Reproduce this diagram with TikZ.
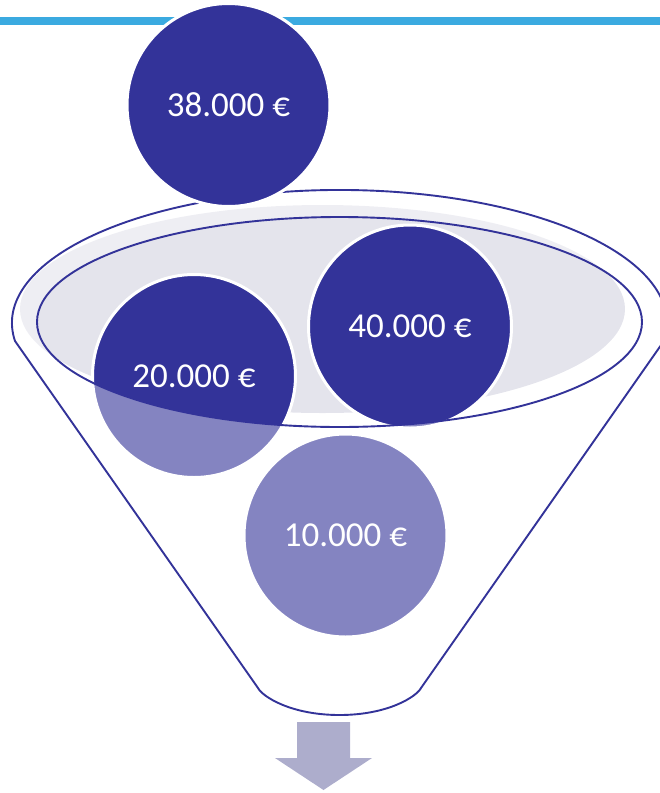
\documentclass[tikz,border=0pt]{standalone}
\usepackage{fontspec}
\setmainfont{Carlito}
\definecolor{dkblue}{HTML}{333399}
\definecolor{barblue}{RGB}{59,170,224}
\definecolor{grayfill}{RGB}{228,228,236}
\definecolor{arrowgray}{RGB}{173,173,204}
\tikzset{
  money/.style={circle, fill=dkblue, draw=white, line width=3pt, minimum size=203pt,
    inner sep=0pt, text=white, font=\fontsize{35}{40}\selectfont},
  funnelline/.style={draw=dkblue, line width=1.9pt, line join=round},
  overlay/.style={fill=white, fill opacity=0.4, even odd rule}
}
\begin{document}
\begin{tikzpicture}[x=1pt,y=-1pt]
\useasboundingbox (0,0) rectangle (660,793);
% top bar
\fill[barblue] (0,17) rectangle (660,25);
% opening fill
\fill[grayfill] (322.5,309) ellipse [x radius=302.5, y radius=104];
% circles inside the funnel
\node[money] (c20) at (194,376) {20.000 €};
\node[money] (c40) at (410,326.5) {40.000 €};
\node[money] (c10) at (345.5,535.5) {10.000 €};
% translucent funnel body
\path[overlay] (15,341) arc[start angle=172.2, end angle=367.8, x radius=327.5, y radius=133]
  -- (421,688) .. controls (417,696) and (389,715) .. (339.5,715)
  .. controls (290,715) and (262,696) .. (258,688) -- cycle
  (339.5,322) ellipse [x radius=302.5, y radius=105];
% funnel outline
\draw[funnelline] (15,341) arc[start angle=172.2, end angle=367.8, x radius=327.5, y radius=133]
  -- (421,688) .. controls (417,696) and (389,715) .. (339.5,715)
  .. controls (290,715) and (262,696) .. (258,688) -- cycle;
\draw[funnelline] (339.5,322) ellipse [x radius=302.5, y radius=105];
% top circle
\node[money] (c38) at (228.5,105) {38.000 €};
% output arrow
\fill[arrowgray] (297,722) -- (350,722) -- (350,758) -- (372,758) -- (323.5,790)
  -- (275,758) -- (297,758) -- cycle;
\end{tikzpicture}
\end{document}
